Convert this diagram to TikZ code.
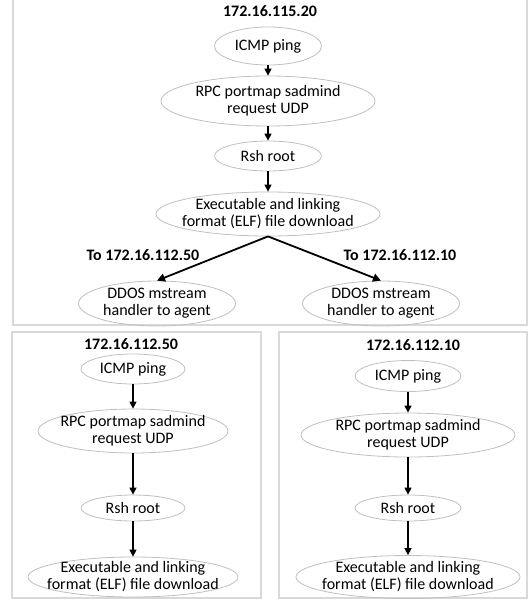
\documentclass[tikz,border=0pt]{standalone}
\usepackage{fontspec}
\setmainfont{Carlito}
\usetikzlibrary{shapes.geometric,arrows.meta}
\tikzset{
  ell/.style={ellipse, draw=gray!50, line width=0.8pt, inner sep=0pt},
  lbl/.style={font=\fontsize{16}{17}\selectfont, align=center, inner sep=0pt},
  ttl/.style={font=\fontsize{16}{17}\selectfont\bfseries, inner sep=0pt},
  frame/.style={draw=gray!30, line width=1.5pt},
  arr/.style={-{Triangle[length=7pt,width=7pt]}, line width=1.4pt, black},
  barr/.style={-{Triangle[length=8pt,width=8pt]}, line width=1.8pt, black},
}
\begin{document}
\begin{tikzpicture}[x=1pt,y=-1pt]
\useasboundingbox (0,0) rectangle (532,600);
% frames
\draw[frame] (13,-5) rectangle (527,325);
\draw[frame] (12,332) rectangle (261,598);
\draw[frame] (279,332) rectangle (527,598);

% top box
\node[ttl] (t0) at (270,11) {172.16.115.20};
\node[ell, minimum width=107, minimum height=38, label={[lbl]center:ICMP ping}] (a1) at (268,46) {};
\node[ell, minimum width=214, minimum height=50, label={[lbl]center:{RPC portmap sadmind\\request UDP}}] (a2) at (268,101) {};
\node[ell, minimum width=107, minimum height=30, label={[lbl]center:Rsh root}] (a3) at (268,156) {};
\node[ell, minimum width=224, minimum height=44, label={[lbl]center:{Executable and linking\\format (ELF) file download}}] (a4) at (268,214) {};
\node[ell, minimum width=157, minimum height=45, label={[lbl]center:{DDOS mstream\\handler to agent}}] (dl) at (157,303.5) {};
\node[ell, minimum width=157, minimum height=45, label={[lbl]center:{DDOS mstream\\handler to agent}}] (dr) at (381,303.5) {};
\node[ttl] (tl) at (143,255) {To 172.16.112.50};
\node[ttl] (tr) at (400,255) {To 172.16.112.10};
\draw[arr] (a1.south) -- (a2.north);
\draw[arr] (a2.south) -- (a3.north);
\draw[arr] (a3.south) -- (a4.north);
\draw[barr] (a4.south) -- (dl.north);
\draw[barr] (a4.south) -- (dr.north);

% bottom-left box
\node[ttl] (t1) at (131,344) {172.16.112.50};
\node[ell, minimum width=104, minimum height=30, label={[lbl]center:ICMP ping}] (b1) at (133,369) {};
\node[ell, minimum width=190, minimum height=44, label={[lbl]center:{RPC portmap sadmind\\request UDP}}] (b2) at (133,431) {};
\node[ell, minimum width=104, minimum height=26, label={[lbl]center:Rsh root}] (b3) at (133,508) {};
\node[ell, minimum width=210, minimum height=40, label={[lbl]center:{Executable and linking\\format (ELF) file download}}] (b4) at (133,577) {};
\draw[arr] (b1.south) -- (b2.north);
\draw[arr] (b2.south) -- (b3.north);
\draw[arr] (b3.south) -- (b4.north);

% bottom-right box
\node[ttl] (t2) at (413,345) {172.16.112.10};
\node[ell, minimum width=106, minimum height=31, label={[lbl]center:ICMP ping}] (c1) at (408,376) {};
\node[ell, minimum width=214, minimum height=44, label={[lbl]center:{RPC portmap sadmind\\request UDP}}] (c2) at (408,435) {};
\node[ell, minimum width=106, minimum height=26, label={[lbl]center:Rsh root}] (c3) at (408,508) {};
\node[ell, minimum width=224, minimum height=43, label={[lbl]center:{Executable and linking\\format (ELF) file download}}] (c4) at (408,577) {};
\draw[arr] (c1.south) -- (c2.north);
\draw[arr] (c2.south) -- (c3.north);
\draw[arr] (c3.south) -- (c4.north);
\end{tikzpicture}
\end{document}
